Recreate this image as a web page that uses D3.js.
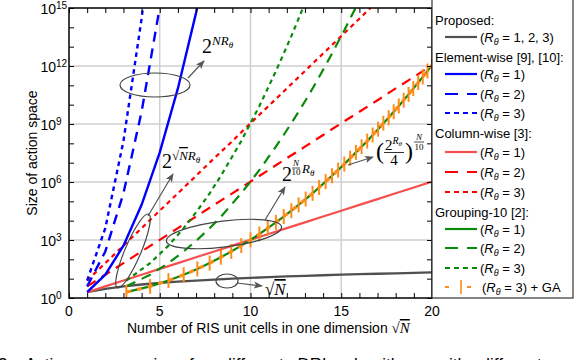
<!DOCTYPE html>
<html>
<head>
<meta charset="utf-8">
<script src="https://cdn.jsdelivr.net/npm/d3@7"></script>
<style>
  body { margin: 0; background: #fff; }
  svg { display: block; }
  text { font-family: "Liberation Sans", Arial, sans-serif; }
  .math { font-family: "Liberation Serif", "Times New Roman", serif; }
</style>
</head>
<body>
<svg id="chart" width="574" height="360"></svg>
<script>
// x = sqrt(N), integer steps
var xInt = [1, 2, 3, 4, 5, 6, 7, 8, 9, 10, 11, 12, 13, 14, 15, 16, 17, 18, 19, 20];
// grouping-10 points: sqrt(10), sqrt(20), ... sqrt(400)
var xGroup = [3.16, 4.47, 5.48, 6.32, 7.07, 7.75, 8.37, 8.94, 9.49, 10, 10.49, 10.95, 11.4, 11.83,
  12.25, 12.65, 13.04, 13.42, 13.78, 14.14, 14.49, 14.83, 15.17, 15.49, 15.81, 16.12, 16.43, 16.73,
  17.03, 17.32, 17.61, 17.89, 18.17, 18.44, 18.71, 18.97, 19.24, 19.49, 19.75, 20];

var proposed = [2, 3, 4, 5, 6, 7, 8, 9, 10, 11, 12, 13, 14, 15, 16, 17, 18, 19, 20, 21];

var elem1 = [2, 16, 512, 6.6e4, 3.4e7, 6.9e10, 5.6e14, 1.8e19];
var elem2 = [4, 256, 2.6e5, 4.3e9, 1.1e15, 4.7e21];
var elem3 = [8, 4096, 1.3e8, 2.8e14, 4.2e22];

var col1 = [2, 4, 8, 16, 32, 64, 128, 256, 512, 1024, 2048, 4096, 8192, 16384, 32768, 65536,
  1.3e5, 2.6e5, 5.2e5, 1.05e6];
var col2 = [4, 16, 64, 256, 1024, 4096, 16384, 65536, 2.6e5, 1.05e6, 4.2e6, 1.7e7, 6.7e7, 2.7e8,
  1.1e9, 4.3e9, 1.7e10, 6.9e10, 2.7e11, 1.1e12];
var col3 = [8, 64, 512, 4096, 3.3e4, 2.6e5, 2.1e6, 1.7e7, 1.3e8, 1.1e9, 8.6e9, 6.9e10, 5.5e11,
  4.4e12, 3.5e13, 2.8e14, 2.3e15, 1.8e16, 1.5e17, 1.2e18];

var grp1 = [2, 4, 8, 16, 32, 64, 128, 256, 512, 1024, 2048, 4096, 8192, 16384, 32768, 65536,
  1.3e5, 2.6e5, 5.2e5, 1.05e6, 2.1e6, 4.2e6, 8.4e6, 1.7e7, 3.4e7, 6.7e7, 1.3e8, 2.7e8, 5.4e8,
  1.1e9, 2.1e9, 4.3e9, 8.6e9, 1.7e10, 3.4e10, 6.9e10, 1.4e11, 2.7e11, 5.5e11, 1.1e12];
var grp2 = [4, 16, 64, 256, 1024, 4096, 1.6e4, 6.6e4, 2.6e5, 1.05e6, 4.2e6, 1.7e7, 6.7e7, 2.7e8,
  1.1e9, 4.3e9, 1.7e10, 6.9e10, 2.7e11, 1.1e12, 4.4e12, 1.8e13, 7.0e13, 2.8e14, 1.1e15, 4.5e15];
var grp3 = [8, 64, 512, 4096, 3.3e4, 2.6e5, 2.1e6, 1.7e7, 1.3e8, 1.1e9, 8.6e9, 6.9e10, 5.5e11,
  4.4e12, 3.5e13, 2.8e14, 2.3e15, 1.8e16];
var grpGA = [2, 4, 8, 16, 32, 64, 128, 256, 512, 1024, 2048, 4096, 8192, 16384, 32768, 65536,
  1.3e5, 2.6e5, 5.2e5, 1.05e6, 2.1e6, 4.2e6, 8.4e6, 1.7e7, 3.4e7, 6.7e7, 1.3e8, 2.7e8, 5.4e8,
  1.1e9, 2.1e9, 4.3e9, 8.6e9, 1.7e10, 3.4e10, 6.9e10, 1.4e11, 2.7e11, 5.5e11, 1.1e12];

var xTickLabels = [0, 5, 10, 15, 20];
var yTickExps = [0, 3, 6, 9, 12, 15];

var headers = ["Proposed:", "Element-wise [9], [10]:", "Column-wise [3]:", "Grouping-10 [2]:"];

var svg = d3.select("#chart");
var pL = 69, pR = 432, pT = 8, pB = 298;

var x = d3.scaleLinear().domain([0, 20]).range([pL, pR]);
var y = d3.scaleLog().domain([1, 1e15]).range([pB, pT]);

var blue = "#0000ff", red = "#ff0000", redL = "#f5504f", green = "#0a8a0a", gray = "#505050", orange = "#ff8c1a";
var DASH = "10,7", DOT = "4.5,4";

var defs = svg.append("defs");
defs.append("clipPath").attr("id", "clip")
  .append("rect").attr("x", pL).attr("y", pT).attr("width", pR - pL).attr("height", pB - pT);

var marker = defs.append("marker")
  .attr("id", "arrow").attr("viewBox", "0 0 10 10").attr("refX", 9).attr("refY", 5)
  .attr("markerWidth", 9).attr("markerHeight", 9).attr("orient", "auto-start-reverse")
  .attr("markerUnits", "userSpaceOnUse");
marker.append("path").attr("d", "M0,1 L10,5 L0,9 L2.5,5 Z").attr("fill", "#555");

// grid
var grid = svg.append("g");
[5, 10, 15].forEach(function(v) {
  grid.append("line").attr("x1", x(v)).attr("x2", x(v)).attr("y1", pT).attr("y2", pB)
    .attr("stroke", "#cfcfcf").attr("stroke-width", 1.5);
});
[1e3, 1e6, 1e9, 1e12].forEach(function(v) {
  grid.append("line").attr("x1", pL).attr("x2", pR).attr("y1", y(v)).attr("y2", y(v))
    .attr("stroke", "#cfcfcf").attr("stroke-width", 1.5);
});

// series
var plot = svg.append("g").attr("clip-path", "url(#clip)");
function series(xs, ys, color, dash, w) {
  var pts = ys.map(function(v, i) { return [xs[i], v]; });
  var line = d3.line().x(function(d) { return x(d[0]); }).y(function(d) { return y(d[1]); });
  plot.append("path").datum(pts).attr("d", line).attr("fill", "none")
    .attr("stroke", color).attr("stroke-width", w || 2.2)
    .attr("stroke-dasharray", dash || null);
}

series(xInt, proposed, gray, null, 2.3);
series(xInt, col1, redL, null, 2.2);
series(xInt, col2, red, DASH);
series(xInt, col3, red, DOT);
series(xGroup, grp1, green, null, 2.2);
series(xGroup, grp2, green, DASH);
series(xGroup, grp3, green, DOT);
series(xInt, elem1, blue, null, 2.4);
series(xInt, elem2, blue, DASH, 2.4);
series(xInt, elem3, blue, DOT, 2.4);
series(xGroup, grpGA, orange, "5,6", 3.2);
plot.selectAll(".ga").data(grpGA).enter().append("line")
  .attr("x1", function(d, i) { return x(xGroup[i]); })
  .attr("x2", function(d, i) { return x(xGroup[i]); })
  .attr("y1", function(d) { return y(d) - 7.5; })
  .attr("y2", function(d) { return y(d) + 7.5; })
  .attr("stroke", orange).attr("stroke-width", 2);

// axes, ticks inward
var tickX = d3.range(0, 21);
var tickY = d3.range(0, 16).map(function(e) { return Math.pow(10, e); });
svg.append("g").attr("transform", "translate(0," + pB + ")")
  .call(d3.axisBottom(x).tickValues(tickX).tickSize(-5).tickFormat(""));
svg.append("g").attr("transform", "translate(0," + pT + ")")
  .call(d3.axisTop(x).tickValues(tickX).tickSize(-5).tickFormat(""));
svg.append("g").attr("transform", "translate(" + pL + ",0)")
  .call(d3.axisLeft(y).tickValues(tickY).tickSize(-5).tickFormat(""));
svg.append("g").attr("transform", "translate(" + pR + ",0)")
  .call(d3.axisRight(y).tickValues(tickY).tickSize(-5).tickFormat(""));
svg.selectAll(".domain").remove();
svg.selectAll(".tick line").attr("stroke", "#000").attr("stroke-width", 1);

svg.append("rect").attr("x", pL).attr("y", pT).attr("width", pR - pL).attr("height", pB - pT)
  .attr("fill", "none").attr("stroke", "#000").attr("stroke-width", 1.5);

// tick labels
svg.selectAll(".xl").data(xTickLabels).enter().append("text")
  .attr("x", function(d) { return x(d); }).attr("y", 316)
  .attr("text-anchor", "middle").attr("font-size", 14).text(function(d) { return d; });
yTickExps.forEach(function(e) {
  var yy = y(Math.pow(10, e));
  svg.append("text").attr("x", 56).attr("y", yy + 6)
    .attr("font-size", 14).attr("text-anchor", "end").text("10");
  svg.append("text").attr("x", 56).attr("y", yy + 1)
    .attr("font-size", 10).text(e);
});

// axis titles
svg.append("text").attr("transform", "translate(37,153) rotate(-90)")
  .attr("text-anchor", "middle").attr("font-size", 14).text("Size of action space");
var xt = svg.append("text").attr("x", 127).attr("y", 333).attr("font-size", 14)
  .text("Number of RIS unit cells in one dimension ");
xt.append("tspan").attr("class", "math").attr("font-size", 15).text("\u221A");
xt.append("tspan").attr("class", "math").attr("font-style", "italic").attr("font-size", 15)
  .attr("text-decoration", "overline").text("N");

// caption (cut at the bottom)
svg.append("text").attr("x", -2).attr("y", 370).attr("font-size", 17)
  .attr("word-spacing", 9)
  .text("3:  Action space size for different DRL algorithms with different");

// legend
var lg = svg.append("g");
lg.append("rect").attr("x", pR).attr("y", -5).attr("width", 573 - pR).attr("height", pB + 5)
  .attr("fill", "#fff").attr("stroke", "#333").attr("stroke-width", 1.2);
var rowY = [20, 37, 57, 74, 94, 113, 133, 152, 172, 192, 212, 229, 248, 268, 287];
var rows = [
  {h: headers[0]},
  {c: gray, d: null, t: "1, 2, 3"},
  {h: headers[1]},
  {c: blue, d: null, t: "1"},
  {c: blue, d: "13,9", t: "2"},
  {c: blue, d: "5,4", t: "3"},
  {h: headers[2]},
  {c: redL, d: null, t: "1"},
  {c: red, d: "13,9", t: "2"},
  {c: red, d: "5,4", t: "3"},
  {h: headers[3]},
  {c: green, d: null, t: "1"},
  {c: green, d: "13,9", t: "2"},
  {c: green, d: "5,4", t: "3"},
  {c: orange, d: "4,18", t: "3", ga: true}
];
rows.forEach(function(r, i) {
  var yy = rowY[i];
  if (r.h) {
    lg.append("text").attr("x", 435).attr("y", yy + 5).attr("font-size", 13).text(r.h);
    return;
  }
  lg.append("line").attr("x1", 445).attr("x2", 477).attr("y1", yy).attr("y2", yy)
    .attr("stroke", r.c).attr("stroke-width", 2.2).attr("stroke-dasharray", r.d);
  if (r.ga) {
    lg.append("line").attr("x1", 461).attr("x2", 461).attr("y1", yy - 7).attr("y2", yy + 7)
      .attr("stroke", orange).attr("stroke-width", 1.6);
  }
  var t = lg.append("text").attr("x", r.ga ? 482 : 480).attr("y", yy + 5).attr("font-size", 13);
  t.append("tspan").text("(");
  t.append("tspan").attr("font-style", "italic").text("R");
  t.append("tspan").attr("font-style", "italic").attr("font-size", 9).attr("dy", 3).text("\u03B8");
  t.append("tspan").attr("dy", -3).text(" = " + r.t + ")" + (r.ga ? " + GA" : ""));
});

// annotations
var ann = svg.append("g").attr("fill", "none").attr("stroke", "#444").attr("stroke-width", 1.2);
ann.append("ellipse").attr("cx", 155).attr("cy", 85).attr("rx", 35).attr("ry", 12);
ann.append("ellipse").attr("transform", "translate(133,251) rotate(-67)").attr("rx", 40).attr("ry", 8);
ann.append("ellipse").attr("transform", "translate(224,234) rotate(-7)").attr("rx", 58).attr("ry", 13);
ann.append("ellipse").attr("cx", 227).attr("cy", 281).attr("rx", 11).attr("ry", 7);
function arrow(x1, y1, x2, y2) {
  ann.append("line").attr("x1", x1).attr("y1", y1).attr("x2", x2).attr("y2", y2)
    .attr("stroke", "#555").attr("marker-end", "url(#arrow)");
}
arrow(188, 78, 204, 61);
arrow(148, 216, 173, 174);
arrow(265, 220, 285, 187);
arrow(348, 165, 373, 157);
arrow(237, 283, 262, 286);

function powLabel(x0, y0) {
  var t = svg.append("text").attr("class", "math").attr("x", x0).attr("y", y0).attr("fill", "#000");
  t.append("tspan").attr("font-size", 20).text("2");
  return t;
}
// 2^{N R_theta}
var a1 = powLabel(202, 53);
a1.append("tspan").attr("font-size", 13).attr("font-style", "italic").attr("dy", -8).text("NR");
a1.append("tspan").attr("font-size", 9).attr("font-style", "italic").attr("dy", 3).text("\u03B8");
// 2^{sqrt(N) R_theta}
var a2 = powLabel(162, 168);
a2.append("tspan").attr("font-size", 13).attr("dy", -8).text("\u221A");
a2.append("tspan").attr("font-size", 13).attr("font-style", "italic").attr("text-decoration", "overline").text("N");
a2.append("tspan").attr("font-size", 13).attr("font-style", "italic").text("R");
a2.append("tspan").attr("font-size", 9).attr("font-style", "italic").attr("dy", 3).text("\u03B8");
// 2^{N/10 R_theta}
powLabel(282, 181);
svg.append("text").attr("class", "math").attr("x", 296).attr("y", 166).attr("font-size", 9)
  .attr("font-style", "italic").attr("text-anchor", "middle").text("N");
svg.append("line").attr("x1", 292).attr("x2", 300).attr("y1", 168).attr("y2", 168).attr("stroke", "#000").attr("stroke-width", 0.7);
svg.append("text").attr("class", "math").attr("x", 296).attr("y", 175).attr("font-size", 9)
  .attr("text-anchor", "middle").text("10");
var a3b = svg.append("text").attr("class", "math").attr("x", 302).attr("y", 173);
a3b.append("tspan").attr("font-size", 13).attr("font-style", "italic").text("R");
a3b.append("tspan").attr("font-size", 9).attr("font-style", "italic").attr("dy", 3).text("\u03B8");
// (2^{R_theta}/4)^{N/10}
svg.append("text").attr("class", "math").attr("x", 376).attr("y", 159).attr("font-size", 24).text("(");
svg.append("text").attr("class", "math").attr("x", 405).attr("y", 159).attr("font-size", 24).text(")");
var nn = svg.append("text").attr("class", "math").attr("x", 385).attr("y", 150);
nn.append("tspan").attr("font-size", 15).text("2");
nn.append("tspan").attr("font-size", 10).attr("font-style", "italic").attr("dy", -6).text("R");
nn.append("tspan").attr("font-size", 7).attr("font-style", "italic").attr("dy", 2).text("\u03B8");
svg.append("line").attr("x1", 384).attr("x2", 404).attr("y1", 152.5).attr("y2", 152.5).attr("stroke", "#000").attr("stroke-width", 0.8);
svg.append("text").attr("class", "math").attr("x", 394).attr("y", 165).attr("font-size", 15)
  .attr("text-anchor", "middle").text("4");
svg.append("text").attr("class", "math").attr("x", 419).attr("y", 140).attr("font-size", 9)
  .attr("font-style", "italic").attr("text-anchor", "middle").text("N");
svg.append("line").attr("x1", 414).attr("x2", 424).attr("y1", 142).attr("y2", 142).attr("stroke", "#000").attr("stroke-width", 0.7);
svg.append("text").attr("class", "math").attr("x", 419).attr("y", 150).attr("font-size", 9)
  .attr("text-anchor", "middle").text("10");
// sqrt(N)
var a5 = svg.append("text").attr("class", "math").attr("x", 265).attr("y", 295).attr("font-size", 17);
a5.append("tspan").text("\u221A");
a5.append("tspan").attr("font-style", "italic").attr("text-decoration", "overline").text("N");
</script>
</body>
</html>
